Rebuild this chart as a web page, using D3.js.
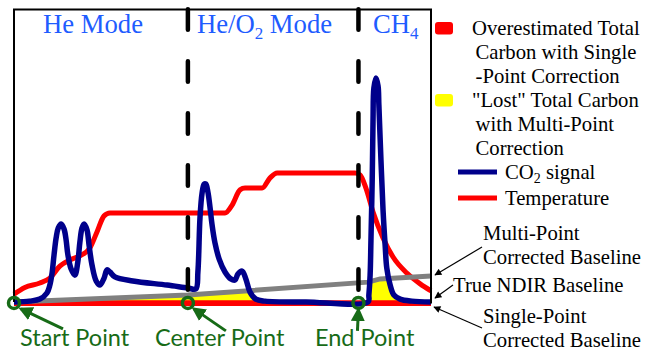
<!DOCTYPE html>
<html>
<head>
<meta charset="utf-8">
<script src="https://cdn.jsdelivr.net/npm/d3@7/dist/d3.min.js"></script>
<style>
  body { margin: 0; background: #fff; }
  svg { display: block; }
</style>
</head>
<body>
<div id="chart"></div>
<script>
// run time (% of run) and signal (% of full scale)
const co2Time = [0,3.8,6.2,7.9,8.6,9.1,9.6,10.1,10.6,11.3,12.0,12.5,12.9,13.7,14.6,15.3,15.8,16.3,16.8,17.5,
  18.0,18.7,19.7,20.6,21.6,22.3,23.0,24.2,28.5,36.7,41.7,43.6,44.1,44.6,45.1,45.6,46.0,46.5,47.0,47.5,
  48.2,49.2,50.6,52.0,53.0,53.7,54.7,55.6,56.6,58.0,60.2,70.0,84.9,85.1,85.4,85.6,85.9,86.1,86.3,86.8,
  87.3,87.5,88.0,88.5,89.0,89.4,90.2,91.1,92.6,95.4,100];
const co2Signal = [0,0.3,1.0,3.1,5.8,9.6,16.1,21.9,25.3,26.7,25.0,21.2,16.4,11.3,9.2,13.7,20.5,25.3,26.7,24.7,
  19.5,12.7,7.2,5.8,8.2,11.0,10.3,8.6,7.2,5.8,4.8,4.5,10.3,28.8,37.3,40.4,40.4,37.7,32.5,26.4,
  20.2,14.7,10.3,7.9,7.5,9.6,10.6,7.9,3.4,1.0,0.3,0,0,2.4,9.2,21.2,41.8,62.3,73.3,76.7,
  74.0,67.5,48.6,31.5,19.5,11.6,5.8,2.4,1.0,0.3,0];

const tempTime = [0,2.6,6.2,8.6,11.0,13.4,15.8,18.2,19.9,21.6,23.0,50.6,52.3,54.2,55.4,59.5,61.4,63.1,
  81.8,83.0,84.4,86.1,88.5,90.9,94.2,97.4,100];
const tempValue = [2.7,5.0,6.5,8.2,12.3,14.4,15.8,18.5,24.0,29.5,30.5,30.5,33.2,38.4,39.0,39.0,42.5,44.2,
  44.2,43.5,39.0,30.8,21.9,15.4,9.9,6.2,3.8];

// multi-point corrected baseline (through start, center, end points)
const baseTime = [0, 41.7, 84.9, 87.8, 100];
const multiBaseline = [0, 2.4, 6.8, 7.9, 8.9];

const modeBounds = [41.7, 82.6];
const modeNames = ["He Mode", "He/O|2| Mode", "CH|4|"];
const pointTimes = [0, 41.7, 82.6];
const pointLabels = ["Start Point", "Center Point", "End Point"];

const legendColors = ["#ff0000", "#ffff00"];
const legendAreaText = [
  ["Overestimated Total", "Carbon with Single", "-Point Correction"],
  ["\"Lost\" Total Carbon", "with Multi-Point", "Correction"]
];
const legendLineColors = ["#00008b", "#ff0000"];
const legendLineText = ["CO|2| signal", "Temperature"];
const baselineNotes = [["Multi-Point", "Corrected Baseline"], ["True NDIR Baseline"], ["Single-Point", "Corrected Baseline"]];

const width = 645, height = 353;
const serif = "'Liberation Serif', 'Times New Roman', serif";
const sans = "Lato, 'Open Sans', sans-serif";
const green = "#176b17";
const modeBlue = "#1f5cff";

const svg = d3.select('#chart').append('svg')
  .attr('width', width).attr('height', height);

const x = d3.scaleLinear().domain([0, 100]).range([14, 431]);
const y = d3.scaleLinear().domain([0, 100]).range([302, 10]);

const co2 = co2Time.map((t, i) => [t, co2Signal[i]]);
const temp = tempTime.map((t, i) => [t, tempValue[i]]);
const multi = baseTime.map((t, i) => [t, multiBaseline[i]]);

const smooth = d3.curveCatmullRom.alpha(0.5);
const co2Line = d3.line().x(d => x(d[0])).y(d => y(d[1])).curve(smooth);
const tempLine = d3.line().x(d => x(d[0])).y(d => y(d[1])).curve(d3.curveMonotoneX);
const straight = d3.line().x(d => x(d[0])).y(d => y(d[1]));

const defs = svg.append('defs');
defs.append('clipPath').attr('id', 'under-co2')
  .append('path')
  .attr('d', d3.area().x(d => x(d[0])).y0(y(-5)).y1(d => y(d[1])).curve(smooth)(co2));

defs.append('marker').attr('id', 'garrow')
  .attr('viewBox', '0 0 10 10').attr('refX', 8).attr('refY', 5)
  .attr('markerUnits', 'userSpaceOnUse').attr('markerWidth', 14).attr('markerHeight', 14)
  .attr('orient', 'auto')
  .append('path').attr('d', 'M0,0 L10,5 L0,10 z').attr('fill', green);

defs.append('marker').attr('id', 'barrow')
  .attr('viewBox', '0 0 10 10').attr('refX', 9).attr('refY', 5)
  .attr('markerUnits', 'userSpaceOnUse').attr('markerWidth', 8).attr('markerHeight', 7)
  .attr('orient', 'auto')
  .append('path').attr('d', 'M0,0 L10,5 L0,10 z').attr('fill', '#000');

// "lost" carbon: under both the multi-point baseline and the CO2 trace
svg.append('path')
  .attr('d', d3.area().x(d => x(d[0])).y0(y(0)).y1(d => y(d[1]))(multi))
  .attr('fill', '#ffff00')
  .attr('clip-path', 'url(#under-co2)');

// overestimated band from single-point correction
svg.append('path')
  .attr('d', d3.area().x(d => x(d)).y0(y(-1.4)).y1(y(0.6))([0, 100]))
  .attr('fill', '#ff0000');

svg.append('path').attr('d', tempLine(temp))
  .attr('fill', 'none').attr('stroke', '#ff0000').attr('stroke-width', 5)
  .attr('stroke-linejoin', 'round');

svg.append('path').attr('d', straight(multi))
  .attr('fill', 'none').attr('stroke', '#808080').attr('stroke-width', 5);

svg.append('path').attr('d', co2Line(co2))
  .attr('fill', 'none').attr('stroke', '#00008b').attr('stroke-width', 5.5)
  .attr('stroke-linejoin', 'round');

// mode boundaries
svg.selectAll('.bound').data(modeBounds).enter().append('line')
  .attr('x1', d => x(d)).attr('x2', d => x(d))
  .attr('y1', 9.25).attr('y2', y(0))
  .attr('stroke', '#000').attr('stroke-width', 4.5)
  .attr('stroke-dasharray', '20.5,31.5').attr('stroke-linecap', 'round');

// frame (no bottom edge)
svg.append('path')
  .attr('d', `M${x(0)},${y(0)} V${y(100) - 0.5} H${x(100)} V${y(-0.5)}`)
  .attr('fill', 'none').attr('stroke', '#000').attr('stroke-width', 2);

// mode titles, "|" marks a subscript
function richText(sel, str, big, small) {
  str.split('|').forEach((part, i) => {
    if (!part) return;
    const sub = i % 2 === 1;
    sel.append('tspan').text(part)
      .attr('font-size', sub ? small : big)
      .attr('dy', sub ? big * 0.22 : (i > 0 ? -big * 0.22 : 0));
  });
}
const modeStarts = [x(0) + 29, x(modeBounds[0]) + 9, x(modeBounds[1]) + 14.5];
modeNames.forEach((m, i) => {
  const t = svg.append('text').attr('x', modeStarts[i]).attr('y', 33)
    .attr('font-family', serif).attr('fill', modeBlue);
  richText(t, m, 26.7, 17);
});

// correction points
svg.selectAll('.pt').data(pointTimes).enter().append('circle')
  .attr('cx', d => x(d)).attr('cy', y(-0.3)).attr('r', 5.5)
  .attr('fill', 'none').attr('stroke', green).attr('stroke-width', 3.5);

const arrowTail = [[49, 26], [38, 28], [-1, 28]];
const arrowTip = [[7, 6], [6, 6], [0, 7]];
pointTimes.forEach((t, i) => {
  const px = x(t), py = y(-0.3);
  svg.append('line')
    .attr('x1', px + arrowTail[i][0]).attr('y1', py + arrowTail[i][1])
    .attr('x2', px + arrowTip[i][0]).attr('y2', py + arrowTip[i][1])
    .attr('stroke', green).attr('stroke-width', 3)
    .attr('marker-end', 'url(#garrow)');
});
const labelStarts = [20, 155, 315];
pointLabels.forEach((l, i) => {
  svg.append('text').attr('x', labelStarts[i]).attr('y', 346)
    .attr('font-family', sans).attr('font-size', 23.5).attr('fill', green).text(l);
});

// legend
const fs = 20.7;
const areaTop = [22, 94];
legendColors.forEach((c, i) => {
  svg.append('rect').attr('x', 435).attr('y', areaTop[i]).attr('width', 18).attr('height', 12.5)
    .attr('rx', 3).attr('fill', c);
  legendAreaText[i].forEach((s, j) => {
    svg.append('text').attr('x', j === 0 ? 472 : 475.5).attr('y', areaTop[i] + 13 + j * 24)
      .attr('font-family', serif).attr('font-size', fs).attr('fill', '#000').text(s);
  });
});
const lineY = [172, 198];
legendLineColors.forEach((c, i) => {
  svg.append('line').attr('x1', 458).attr('x2', 497).attr('y1', lineY[i]).attr('y2', lineY[i])
    .attr('stroke', c).attr('stroke-width', 5);
  const t = svg.append('text').attr('x', 505).attr('y', lineY[i] + 6.5)
    .attr('font-family', serif).attr('fill', '#000');
  richText(t, legendLineText[i], fs, 14);
});

// baseline notes with pointers
const noteX = [483, 453, 483];
const noteY = [240, 292, 323];
const pointerFrom = [[482, 247], [453, 285], [482, 328]];
const pointerTo = [[435, 275], [435, 298], [434, 307]];
baselineNotes.forEach((lines, i) => {
  lines.forEach((s, j) => {
    svg.append('text').attr('x', noteX[i]).attr('y', noteY[i] + j * 24)
      .attr('font-family', serif).attr('font-size', fs).attr('fill', '#000').text(s);
  });
  svg.append('line')
    .attr('x1', pointerFrom[i][0]).attr('y1', pointerFrom[i][1])
    .attr('x2', pointerTo[i][0]).attr('y2', pointerTo[i][1])
    .attr('stroke', '#000').attr('stroke-width', 1.2)
    .attr('marker-end', 'url(#barrow)');
});
</script>
</body>
</html>
